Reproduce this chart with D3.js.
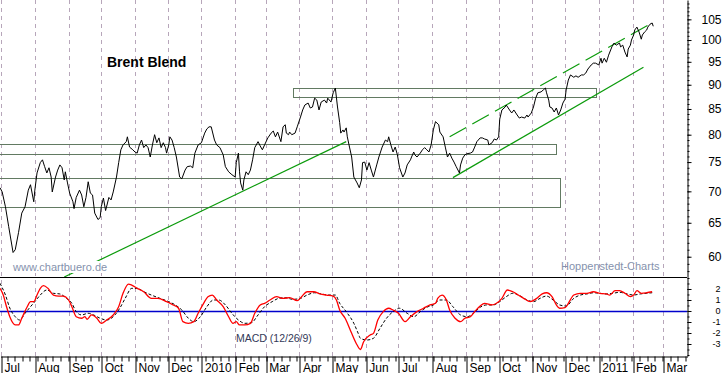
<!DOCTYPE html>
<html><head><meta charset="utf-8">
<script src="https://cdn.jsdelivr.net/npm/d3@7"></script>
<style>html,body{margin:0;padding:0;background:#fff;overflow:hidden}svg{display:block}</style>
</head><body><svg id="c" width="723" height="373"></svg>
<script>
const priceDates = ["2009-06-30","2009-07-02","2009-07-05","2009-07-08","2009-07-12","2009-07-14","2009-07-17","2009-07-20","2009-07-23","2009-07-26","2009-07-28","2009-07-31","2009-08-01","2009-08-03","2009-08-06","2009-08-08","2009-08-10","2009-08-12","2009-08-14","2009-08-16","2009-08-17","2009-08-20","2009-08-22","2009-08-24","2009-08-26","2009-08-28","2009-08-29","2009-08-31","2009-09-02","2009-09-05","2009-09-06","2009-09-08","2009-09-11","2009-09-13","2009-09-15","2009-09-17","2009-09-19","2009-09-21","2009-09-23","2009-09-25","2009-09-28","2009-09-30","2009-10-01","2009-10-03","2009-10-05","2009-10-08","2009-10-10","2009-10-12","2009-10-15","2009-10-17","2009-10-19","2009-10-21","2009-10-24","2009-10-25","2009-10-27","2009-10-30","2009-11-01","2009-11-03","2009-11-05","2009-11-07","2009-11-09","2009-11-11","2009-11-13","2009-11-15","2009-11-17","2009-11-19","2009-11-21","2009-11-23","2009-11-25","2009-11-27","2009-11-29","2009-11-30","2009-12-02","2009-12-03","2009-12-05","2009-12-07","2009-12-09","2009-12-12","2009-12-14","2009-12-17","2009-12-19","2009-12-22","2009-12-24","2009-12-26","2009-12-29","2010-01-01","2010-01-04","2010-01-06","2010-01-08","2010-01-10","2010-01-13","2010-01-15","2010-01-18","2010-01-21","2010-01-23","2010-01-26","2010-01-29","2010-02-01","2010-02-02","2010-02-04","2010-02-05","2010-02-06","2010-02-08","2010-02-09","2010-02-11","2010-02-13","2010-02-15","2010-02-17","2010-02-19","2010-02-22","2010-02-24","2010-02-26","2010-02-28","2010-03-03","2010-03-06","2010-03-08","2010-03-10","2010-03-12","2010-03-15","2010-03-17","2010-03-19","2010-03-20","2010-03-22","2010-03-23","2010-03-25","2010-03-28","2010-03-30","2010-04-02","2010-04-04","2010-04-06","2010-04-09","2010-04-11","2010-04-13","2010-04-15","2010-04-17","2010-04-19","2010-04-21","2010-04-24","2010-04-26","2010-04-27","2010-04-30","2010-05-02","2010-05-04","2010-05-06","2010-05-08","2010-05-09","2010-05-11","2010-05-12","2010-05-14","2010-05-15","2010-05-17","2010-05-19","2010-05-21","2010-05-24","2010-05-26","2010-05-28","2010-05-29","2010-05-31","2010-06-02","2010-06-04","2010-06-06","2010-06-08","2010-06-11","2010-06-13","2010-06-16","2010-06-19","2010-06-21","2010-06-22","2010-06-24","2010-06-26","2010-06-28","2010-06-30","2010-07-02","2010-07-05","2010-07-07","2010-07-09","2010-07-12","2010-07-13","2010-07-15","2010-07-16","2010-07-18","2010-07-21","2010-07-23","2010-07-25","2010-07-27","2010-07-29","2010-07-31","2010-08-02","2010-08-04","2010-08-07","2010-08-08","2010-08-11","2010-08-13","2010-08-15","2010-08-17","2010-08-19","2010-08-21","2010-08-23","2010-08-26","2010-08-27","2010-08-29","2010-08-31","2010-09-02","2010-09-05","2010-09-07","2010-09-09","2010-09-11","2010-09-14","2010-09-16","2010-09-18","2010-09-21","2010-09-22","2010-09-25","2010-09-27","2010-09-29","2010-10-01","2010-10-02","2010-10-04","2010-10-07","2010-10-08","2010-10-11","2010-10-13","2010-10-15","2010-10-18","2010-10-20","2010-10-22","2010-10-25","2010-10-27","2010-10-28","2010-10-31","2010-11-02","2010-11-04","2010-11-06","2010-11-09","2010-11-11","2010-11-13","2010-11-14","2010-11-16","2010-11-17","2010-11-19","2010-11-21","2010-11-23","2010-11-25","2010-11-27","2010-11-29","2010-12-01","2010-12-02","2010-12-04","2010-12-06","2010-12-09","2010-12-11","2010-12-13","2010-12-16","2010-12-18","2010-12-20","2010-12-22","2010-12-25","2010-12-27","2010-12-29","2011-01-01","2011-01-03","2011-01-04","2011-01-06","2011-01-08","2011-01-10","2011-01-13","2011-01-15","2011-01-17","2011-01-20","2011-01-21","2011-01-23","2011-01-25","2011-01-27","2011-01-28","2011-01-30","2011-01-31","2011-02-02","2011-02-03","2011-02-05","2011-02-07","2011-02-09","2011-02-10","2011-02-12","2011-02-14","2011-02-15","2011-02-17","2011-02-19","2011-02-20"];
const priceValues = [70.6,69.9,67.5,64.4,60.6,61.0,63.5,66.5,67.5,70.2,71.1,68.3,70.2,73.1,74.9,75.4,74.2,73.1,74.0,72.4,69.9,72.4,73.6,74.5,74.0,71.9,73.3,71.4,69.7,68.3,67.2,69.0,70.2,69.4,67.5,69.0,71.6,69.7,69.4,66.5,65.5,65.8,67.5,68.9,66.9,69.0,68.6,69.9,72.4,74.9,77.2,78.1,78.7,79.6,77.7,77.2,76.8,76.6,78.1,79.0,77.6,78.1,77.6,75.9,78.1,80.0,78.5,79.4,77.6,78.5,77.6,76.6,78.1,79.6,79.0,77.6,75.9,72.4,72.1,73.6,74.2,74.3,74.0,76.6,78.1,78.5,80.3,81.1,81.5,81.5,79.0,78.1,77.6,76.3,74.2,73.3,72.8,72.4,74.9,76.6,73.3,71.4,70.2,71.9,73.3,72.8,73.6,75.4,77.6,78.7,77.9,77.2,78.1,79.4,80.3,80.7,79.6,80.5,78.7,81.5,81.9,80.3,80.0,80.5,80.0,80.3,81.5,83.4,84.8,85.8,86.2,85.2,85.4,87.2,86.8,84.8,86.4,86.8,86.2,87.2,86.4,88.3,89.3,85.4,82.3,80.3,80.9,80.5,81.3,79.6,77.7,75.9,72.4,71.4,70.6,71.9,74.9,75.0,73.6,74.9,73.6,72.4,74.5,75.9,77.7,79.0,78.7,79.6,78.1,76.8,77.7,76.3,74.0,72.4,73.1,74.5,75.4,75.9,76.8,76.3,75.9,76.6,77.2,77.6,77.2,76.8,78.1,80.9,82.5,81.9,80.5,79.6,77.7,75.9,76.6,75.7,75.0,74.2,73.1,74.5,75.7,76.3,76.5,76.6,76.8,77.7,78.7,79.4,79.4,79.2,79.0,78.1,78.5,79.2,79.0,79.6,83.0,84.8,85.4,85.8,84.8,84.2,84.8,83.8,83.2,83.4,83.2,83.8,83.4,84.2,85.4,87.2,88.3,88.5,88.9,89.3,88.3,86.8,85.4,85.2,84.4,85.2,83.8,84.8,86.2,87.0,88.9,91.0,92.1,91.6,91.9,91.6,92.1,92.1,92.5,93.4,94.3,94.7,94.7,94.3,95.8,94.7,95.8,94.9,96.5,98.4,99.3,98.8,99.3,98.4,98.8,97.2,96.1,97.9,98.8,100.0,101.2,102.4,103.1,101.9,100.2,101.2,101.9,102.4,103.1,103.8,104.1,103.3];

const macdDates = ["2009-06-30","2009-07-03","2009-07-06","2009-07-09","2009-07-14","2009-07-17","2009-07-20","2009-07-25","2009-07-28","2009-07-31","2009-08-03","2009-08-06","2009-08-09","2009-08-13","2009-08-18","2009-08-23","2009-08-27","2009-09-01","2009-09-04","2009-09-08","2009-09-13","2009-09-16","2009-09-18","2009-09-22","2009-09-27","2009-10-01","2009-10-06","2009-10-12","2009-10-17","2009-10-21","2009-10-26","2009-10-29","2009-11-03","2009-11-09","2009-11-16","2009-11-22","2009-11-30","2009-12-06","2009-12-11","2009-12-15","2009-12-20","2009-12-25","2009-12-29","2010-01-03","2010-01-07","2010-01-11","2010-01-15","2010-01-21","2010-01-26","2010-01-30","2010-02-02","2010-02-05","2010-02-10","2010-02-15","2010-02-19","2010-02-24","2010-02-28","2010-03-05","2010-03-11","2010-03-17","2010-03-23","2010-03-30","2010-04-03","2010-04-08","2010-04-14","2010-04-20","2010-04-26","2010-05-02","2010-05-05","2010-05-08","2010-05-13","2010-05-19","2010-05-24","2010-05-27","2010-05-30","2010-06-05","2010-06-08","2010-06-12","2010-06-17","2010-06-22","2010-06-26","2010-07-01","2010-07-07","2010-07-12","2010-07-18","2010-07-24","2010-07-30","2010-08-04","2010-08-06","2010-08-10","2010-08-14","2010-08-17","2010-08-22","2010-08-27","2010-08-31","2010-09-05","2010-09-09","2010-09-14","2010-09-18","2010-09-25","2010-09-29","2010-10-04","2010-10-09","2010-10-14","2010-10-19","2010-10-24","2010-10-30","2010-11-05","2010-11-10","2010-11-14","2010-11-19","2010-11-23","2010-11-26","2010-12-01","2010-12-04","2010-12-09","2010-12-15","2010-12-21","2010-12-27","2011-01-02","2011-01-08","2011-01-11","2011-01-16","2011-01-20","2011-01-25","2011-01-30","2011-02-02","2011-02-05","2011-02-09","2011-02-14","2011-02-19"];
const macdValues = [2.06,1.45,0.39,-0.52,-1.27,-1.27,-0.66,0.39,0.85,0.85,1.45,2.06,2.30,2.06,1.45,1.36,1.36,1.00,0.39,-0.52,-0.66,-0.52,-0.75,-0.36,-0.66,-1.12,-0.82,-0.36,0.39,1.61,2.45,2.36,2.06,1.75,1.15,1.15,0.85,0.55,0.25,-0.97,-1.12,-0.97,-0.21,0.70,1.30,1.45,1.00,0.39,-0.52,-1.12,-0.97,-1.27,-1.27,-1.12,-0.21,0.55,0.70,1.00,1.30,1.15,1.21,0.94,1.30,1.75,1.75,1.55,1.45,1.36,1.00,0.09,-0.66,-2.03,-3.09,-3.50,-2.79,-2.18,-2.03,-0.82,-0.06,0.25,0.09,-0.21,-0.97,-0.52,-0.06,0.25,0.55,0.70,1.15,1.45,1.00,0.09,-0.66,-0.97,-0.66,-0.52,-0.06,0.45,0.70,0.55,0.70,1.15,1.91,1.75,1.45,1.15,0.85,1.15,1.55,1.66,1.30,0.55,0.25,0.30,0.70,1.45,1.61,1.61,1.75,1.61,1.55,1.45,1.85,1.85,1.61,1.30,1.45,1.85,1.61,1.66,1.75];

const signalDates = ["2009-06-30","2009-07-05","2009-07-09","2009-07-14","2009-07-18","2009-07-23","2009-07-28","2009-08-01","2009-08-06","2009-08-12","2009-08-18","2009-08-24","2009-08-30","2009-09-04","2009-09-08","2009-09-13","2009-09-19","2009-09-24","2009-09-30","2009-10-06","2009-10-12","2009-10-18","2009-10-23","2009-10-29","2009-11-03","2009-11-09","2009-11-16","2009-11-24","2009-12-02","2009-12-08","2009-12-14","2009-12-20","2009-12-25","2009-12-31","2010-01-06","2010-01-12","2010-01-17","2010-01-23","2010-01-29","2010-02-04","2010-02-10","2010-02-16","2010-02-22","2010-02-28","2010-03-07","2010-03-13","2010-03-19","2010-03-26","2010-04-02","2010-04-08","2010-04-15","2010-04-21","2010-04-28","2010-05-04","2010-05-08","2010-05-14","2010-05-21","2010-05-25","2010-05-27","2010-06-02","2010-06-08","2010-06-14","2010-06-20","2010-06-26","2010-07-02","2010-07-09","2010-07-15","2010-07-21","2010-07-27","2010-08-02","2010-08-08","2010-08-14","2010-08-20","2010-08-27","2010-09-02","2010-09-08","2010-09-14","2010-09-20","2010-09-26","2010-10-02","2010-10-08","2010-10-14","2010-10-21","2010-10-27","2010-11-02","2010-11-08","2010-11-14","2010-11-20","2010-11-26","2010-12-02","2010-12-09","2010-12-15","2010-12-21","2010-12-27","2011-01-02","2011-01-08","2011-01-14","2011-01-20","2011-01-27","2011-02-02","2011-02-08","2011-02-14","2011-02-19"];
const signalValues = [2.52,1.45,0.27,-0.52,-0.82,-0.21,0.39,0.85,1.45,1.91,1.61,1.55,1.15,0.70,-0.06,-0.36,-0.21,-0.36,-0.66,-0.82,-0.52,0.25,1.15,2.06,2.06,1.75,1.45,1.15,0.85,0.55,0.09,-0.66,-0.97,-0.52,0.39,1.00,1.00,0.55,-0.21,-0.82,-1.12,-1.06,-0.36,0.39,0.85,1.15,1.21,1.06,1.15,1.45,1.66,1.55,1.45,1.45,0.70,-0.06,-1.12,-2.03,-2.48,-2.64,-2.48,-1.57,-0.66,-0.06,0.25,-0.21,-0.52,-0.06,0.34,0.55,1.00,1.00,0.39,-0.36,-0.52,-0.21,0.34,0.55,0.55,0.85,1.30,1.61,1.36,1.00,0.85,1.15,1.36,1.00,0.55,0.45,1.15,1.45,1.55,1.66,1.61,1.55,1.61,1.70,1.55,1.45,1.55,1.61,1.66];

const monthLabels = ["Jul","Aug","Sep","Oct","Nov","Dec","2010","Feb","Mar","Apr","May","Jun","Jul","Aug","Sep","Oct","Nov","Dec","2011","Feb","Mar"];
const priceTicks = [60,65,70,75,80,85,90,95,100,105];
const macdTicks = [2,1,0,-1,-2,-3];

const zoneStarts = ["2009-06-01","2009-06-01","2010-03-26"];
const zoneEnds = ["2010-11-23","2010-11-26","2010-12-29"];
const zoneHigh = [78.3,72.3,89.3];
const zoneLow = [76.5,67.5,87.4];

const trendStarts = ["2009-08-28","2010-08-20","2010-08-17"];
const trendEnds = ["2010-05-14","2011-02-11","2011-02-20"];
const trendFrom = [57.2,72.3,79.6];
const trendTo = [78.7,93.8,104.3];

const FONT = "Arial, 'Liberation Sans', sans-serif";
const parse = d3.utcParse("%Y-%m-%d");
const svg = d3.select("#c").style("font-family", FONT);

const x = d3.scaleUtc().domain([parse("2009-06-30"), parse("2011-03-23")]).range([0, 687]);
const yP = d3.scaleLog().domain([57.2, 109.9]).range([277, 0]);
const yM = d3.scaleLinear().domain([-4.09, 3.09]).range([356, 277]);

const defs = svg.append("defs");
defs.append("clipPath").attr("id","cp").append("rect").attr("x",0).attr("y",0).attr("width",687).attr("height",277);
defs.append("clipPath").attr("id","cm").append("rect").attr("x",0).attr("y",277).attr("width",687).attr("height",79);

const months = d3.utcMonth.range(parse("2009-07-01"), parse("2011-03-02"));

svg.append("g").selectAll("line").data(months).join("line")
  .attr("x1", d => Math.round(x(d)) + 0.5).attr("x2", d => Math.round(x(d)) + 0.5)
  .attr("y1", 0).attr("y2", 356)
  .attr("stroke", "#b7a6ba").attr("stroke-width", 1).attr("stroke-dasharray", "4,4");

const gp = svg.append("g").attr("clip-path", "url(#cp)");
const zi = d3.range(zoneStarts.length);
gp.selectAll("rect.zone").data(zi).join("rect").attr("class","zone")
  .attr("x", i => Math.round(x(parse(zoneStarts[i]))) + 0.5)
  .attr("y", i => Math.round(yP(zoneHigh[i])) + 0.5)
  .attr("width", i => Math.round(x(parse(zoneEnds[i]))) - Math.round(x(parse(zoneStarts[i]))))
  .attr("height", i => Math.round(yP(zoneLow[i])) - Math.round(yP(zoneHigh[i])))
  .attr("fill", "none").attr("stroke", "#627a62").attr("stroke-width", 1);

const ti = d3.range(trendStarts.length);
gp.selectAll("line.trend").data(ti).join("line").attr("class","trend")
  .attr("x1", i => x(parse(trendStarts[i]))).attr("y1", i => yP(trendFrom[i]))
  .attr("x2", i => x(parse(trendEnds[i]))).attr("y2", i => yP(trendTo[i]))
  .attr("stroke", "#0b9b0b").attr("stroke-width", 1.2)
  .attr("stroke-dasharray", i => i === 2 ? "19,7" : null);

const priceData = priceDates.map((d, i) => [parse(d), priceValues[i]]);
gp.append("path").datum(priceData)
  .attr("d", d3.line().x(d => x(d[0])).y(d => yP(d[1])))
  .attr("fill", "none").attr("stroke", "#000").attr("stroke-width", 1).attr("stroke-linejoin","round");

const wm = svg.append("g");
const t1 = wm.append("text").attr("x", 13).attr("y", 271).attr("font-size", 11).attr("fill", "#8592ad").text("www.chartbuero.de");
const b1 = t1.node().getBBox();
wm.insert("rect", "text").attr("x", b1.x - 1).attr("y", b1.y).attr("width", b1.width + 2).attr("height", b1.height).attr("fill", "#fff");
wm.append("text").attr("x", 561).attr("y", 270).attr("font-size", 11).attr("fill", "#8592ad").text("Hoppenstedt-Charts");

svg.append("text").attr("x", 107).attr("y", 67).attr("font-size", 14).attr("font-weight", "bold").attr("fill", "#000").text("Brent Blend");

const gm = svg.append("g").attr("clip-path", "url(#cm)");
gm.append("line").attr("x1", 0).attr("x2", 687).attr("y1", Math.round(yM(0)) + 0.5).attr("y2", Math.round(yM(0)) + 0.5)
  .attr("stroke", "#0000cc").attr("stroke-width", 1.5);
const sigData = signalDates.map((d, i) => [parse(d), signalValues[i]]);
const macdData = macdDates.map((d, i) => [parse(d), macdValues[i]]);
const lineM = d3.line().x(d => x(d[0])).y(d => yM(d[1])).curve(d3.curveMonotoneX);
gm.append("path").datum(sigData).attr("d", lineM).attr("fill", "none").attr("stroke", "#000").attr("stroke-width", 1).attr("stroke-dasharray", "3,2");
gm.append("path").datum(macdData).attr("d", lineM).attr("fill", "none").attr("stroke", "#ff0000").attr("stroke-width", 1.3);
svg.append("text").attr("x", 236).attr("y", 342).attr("font-size", 10.5).attr("fill", "#333a58").text("MACD (12/26/9)");

svg.append("line").attr("x1", 0).attr("x2", 687).attr("y1", 277.5).attr("y2", 277.5).attr("stroke", "#000");

const ax = svg.append("g").attr("transform", "translate(0.5,356.5)");
ax.call(d3.axisBottom(x).tickValues(d3.utcMonday.range(x.domain()[0], x.domain()[1])).tickSize(5).tickSizeOuter(0).tickFormat(""));
const ax2 = svg.append("g").attr("transform", "translate(0.5,356.5)");
ax2.call(d3.axisBottom(x).tickValues(months).tickSize(17).tickSizeOuter(0).tickFormat((d, i) => monthLabels[i]));
ax2.select(".domain").remove();
ax2.selectAll("text").attr("x", 2.5).attr("y", 15).attr("dy", 0).attr("text-anchor", "start")
  .attr("font-size", 12).attr("font-family", FONT).attr("fill", "#000");
ax.selectAll(".tick line").attr("transform", d => "translate(" + (Math.round(x(d)) - x(d)) + ",0)");
ax2.selectAll(".tick line").attr("transform", d => "translate(" + (Math.round(x(d)) - x(d)) + ",0)");

const ar = svg.append("g").attr("transform", "translate(687.5,0)");
ar.call(d3.axisRight(yP).tickValues(d3.range(58, 110)).tickSize(2).tickSizeOuter(0).tickFormat(""));
const ar2 = svg.append("g").attr("transform", "translate(687.5,0)");
ar2.call(d3.axisRight(yP).tickValues(priceTicks).tickSize(4).tickSizeOuter(0).tickFormat(d => d));
ar2.select(".domain").remove();
ar2.selectAll("text").attr("x", 34).attr("text-anchor", "end").attr("font-size", 12).attr("font-family", FONT).attr("fill", "#000");
const am = svg.append("g").attr("transform", "translate(687.5,0)");
am.call(d3.axisRight(yM).tickValues(d3.range(-4, 3.01, 0.5)).tickSize(2).tickSizeOuter(0).tickFormat(""));
const am2 = svg.append("g").attr("transform", "translate(687.5,0)");
am2.call(d3.axisRight(yM).tickValues(macdTicks).tickSize(4).tickSizeOuter(0).tickFormat(d => d));
am2.select(".domain").remove();
am2.selectAll("text").attr("x", 33).attr("text-anchor", "end").attr("font-size", 9).attr("font-family", FONT).attr("fill", "#000");
svg.selectAll(".domain").attr("stroke", "#000");
svg.selectAll(".tick line").attr("stroke", "#000");
</script></body></html>
